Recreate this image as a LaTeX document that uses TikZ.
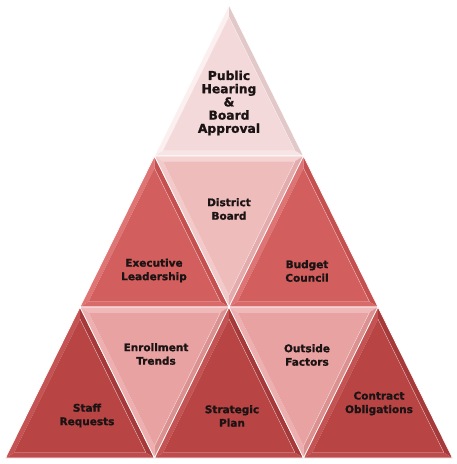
\documentclass[tikz,border=0pt]{standalone}
\usepackage{fontspec}
\setmainfont{DejaVu Sans}
\newfontfamily\labelfont{DejaVu Sans Bold}[FakeBold=1.2]
\usetikzlibrary{calc}

% palette
\definecolor{topMain}{HTML}{F3D9D9}\definecolor{topLite}{HTML}{FBEFEF}\definecolor{topDark}{HTML}{E2C8C8}
\definecolor{dbMain}{HTML}{EFBCBC}\definecolor{dbLite}{HTML}{F6D3D3}\definecolor{dbDark}{HTML}{E3ABAB}
\definecolor{midMain}{HTML}{D35E5E}\definecolor{midLite}{HTML}{DE7474}\definecolor{midDark}{HTML}{C55050}
\definecolor{lowMain}{HTML}{E9A2A2}\definecolor{lowLite}{HTML}{F0B8B8}\definecolor{lowDark}{HTML}{DC9191}
\definecolor{baseMain}{HTML}{B84444}\definecolor{baseLite}{HTML}{C45353}\definecolor{baseDark}{HTML}{A63939}
\definecolor{ink}{HTML}{1C1414}

\tikzset{
  sep/.style={draw=white, line width=0.7pt, line join=miter},
  glint/.style={draw=white, draw opacity=0.45, line width=0.5pt},
  label/.style={align=center, font=\labelfont\fontsize{10.5}{13.5}\selectfont, text=ink, inner sep=0pt},
  biglabel/.style={label, font=\labelfont\fontsize{12.3}{13.2}\selectfont},
}

\def\bev{0.885}

% upward triangle: #1 name, #2 apex x, #3 apex y, #4 face, #5 light rim, #6 dark rim
\newcommand\pyrup[6]{%
  \coordinate (#1-a) at (#2,#3);
  \coordinate (#1-b) at (#2-74.5,#3+151);
  \coordinate (#1-c) at (#2+74.5,#3+151);
  \coordinate (#1-i) at (#2,#3+104.7);
  \coordinate (#1-ia) at ($(#1-i)!\bev!(#1-a)$);
  \coordinate (#1-ib) at ($(#1-i)!\bev!(#1-b)$);
  \coordinate (#1-ic) at ($(#1-i)!\bev!(#1-c)$);
  \fill[#5] (#1-a) -- (#1-b) -- (#1-ib) -- (#1-ia) -- cycle;
  \fill[#6] (#1-a) -- (#1-c) -- (#1-ic) -- (#1-ia) -- cycle;
  \fill[#5!55!#4] (#1-b) -- (#1-c) -- (#1-ic) -- (#1-ib) -- cycle;
  \fill[#4] (#1-ia) -- (#1-ib) -- (#1-ic) -- cycle;
  \draw[glint] (#1-ia) -- (#1-ic);
  \draw[sep] (#1-a) -- (#1-b) -- (#1-c) -- cycle;
}

% downward triangle: #1 name, #2 centre x, #3 top edge y, #4 face, #5 light rim, #6 dark rim
\newcommand\pyrdown[6]{%
  \coordinate (#1-p) at (#2-74.5,#3);
  \coordinate (#1-q) at (#2+74.5,#3);
  \coordinate (#1-v) at (#2,#3+151);
  \coordinate (#1-i) at (#2,#3+46.3);
  \coordinate (#1-ip) at ($(#1-i)!\bev!(#1-p)$);
  \coordinate (#1-iq) at ($(#1-i)!\bev!(#1-q)$);
  \coordinate (#1-iv) at ($(#1-i)!\bev!(#1-v)$);
  \fill[#5] (#1-p) -- (#1-q) -- (#1-iq) -- (#1-ip) -- cycle;
  \fill[#5!60!#4] (#1-p) -- (#1-v) -- (#1-iv) -- (#1-ip) -- cycle;
  \fill[#6] (#1-q) -- (#1-v) -- (#1-iv) -- (#1-iq) -- cycle;
  \fill[#4] (#1-ip) -- (#1-iq) -- (#1-iv) -- cycle;
  \draw[glint] (#1-iq) -- (#1-iv);
  \draw[sep] (#1-p) -- (#1-q) -- (#1-v) -- cycle;
}

\begin{document}
\begin{tikzpicture}[x=1pt, y=-1pt]
  \fill[white] (0,0) rectangle (457,464);
  \useasboundingbox (0,0) rectangle (457,464);

  % tier 1
  \pyrup{hearing}{229}{5}{topMain}{topLite}{topDark}
  % tier 2
  \pyrup{exec}{154.5}{156}{midMain}{midLite}{midDark}
  \pyrdown{board}{229}{156}{dbMain}{dbLite}{dbDark}
  \pyrup{budget}{303.5}{156}{midMain}{midLite}{midDark}
  % tier 3
  \pyrup{staff}{80}{307}{baseMain}{baseLite}{baseDark}
  \pyrdown{enroll}{154.5}{307}{lowMain}{lowLite}{lowDark}
  \pyrup{strat}{229}{307}{baseMain}{baseLite}{baseDark}
  \pyrdown{outside}{303.5}{307}{lowMain}{lowLite}{lowDark}
  \pyrup{contract}{378}{307}{baseMain}{baseLite}{baseDark}

  % labels
  \node[biglabel] (tHearing)  at (229,103)   {Public\\Hearing\\\&\\Board\\Approval};
  \node[label]    (tBoard)    at (229,209)   {District\\Board};
  \node[label]    (tExec)     at (154,270.5) {Executive\\Leadership};
  \node[label]    (tBudget)   at (307,271)   {Budget\\Council};
  \node[label]    (tEnroll)   at (156,354)   {Enrollment\\Trends};
  \node[label]    (tOutside)  at (307,355)   {Outside\\Factors};
  \node[label]    (tStaff)    at (87,415.5)  {Staff\\Requests};
  \node[label]    (tStrat)    at (232,416)   {Strategic\\Plan};
  \node[label]    (tContract) at (379,403.5) {Contract\\Obligations};
\end{tikzpicture}
\end{document}
